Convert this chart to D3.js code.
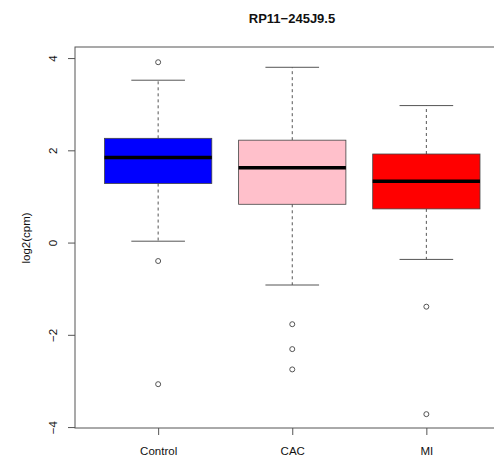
<!DOCTYPE html>
<html>
<head>
<meta charset="utf-8">
<script src="https://cdn.jsdelivr.net/npm/d3@7"></script>
<style>
  body { margin: 0; background: #fff; }
  text { font-family: "Liberation Sans", Arial, sans-serif; }
</style>
</head>
<body>
<div id="chart"></div>
<script>
// values
const groups = ['Control', 'CAC', 'MI'];
const colors = ['#0000ff', '#ffc0cb', '#ff0000'];
const lowWhisker = [0.03, -0.92, -0.365];
const q1 = [1.28, 0.83, 0.73];
const median = [1.846, 1.62, 1.33];
const q3 = [2.26, 2.22, 1.92];
const highWhisker = [3.52, 3.80, 2.97];
const outliers = [
    [3.91, -0.40, -3.07],
    [-1.77, -2.31, -2.75],
    [-1.39, -3.72]
];
const yTicks = [-4, -2, 0, 2, 4];

const width = 494, height = 465;

const svg = d3.select('#chart').append('svg')
    .attr('width', width)
    .attr('height', height);

// R style extended ranges
const x = d3.scaleLinear().domain([0.38, 3.62]).range([75, 509.5]);
const y = d3.scaleLinear().domain([-4.02, 4.24]).range([428, 47]);

const boxW = 0.8, capW = 0.4;

const data = groups.map((g, i) => ({
    name: g, pos: i + 1, color: colors[i],
    lo: lowWhisker[i], q1: q1[i], med: median[i], q3: q3[i], hi: highWhisker[i],
    out: outliers[i]
}));

const box = svg.selectAll('.box')
    .data(data)
    .enter().append('g')
    .attr('class', 'box');

// dashed whiskers
box.append('line')
    .attr('x1', d => x(d.pos)).attr('x2', d => x(d.pos))
    .attr('y1', d => y(d.q3)).attr('y2', d => y(d.hi))
    .attr('stroke', '#555').attr('stroke-dasharray', '3,3');
box.append('line')
    .attr('x1', d => x(d.pos)).attr('x2', d => x(d.pos))
    .attr('y1', d => y(d.q1)).attr('y2', d => y(d.lo))
    .attr('stroke', '#555').attr('stroke-dasharray', '3,3');

// staples
box.append('line')
    .attr('x1', d => x(d.pos - capW / 2)).attr('x2', d => x(d.pos + capW / 2))
    .attr('y1', d => y(d.hi)).attr('y2', d => y(d.hi))
    .attr('stroke', '#555');
box.append('line')
    .attr('x1', d => x(d.pos - capW / 2)).attr('x2', d => x(d.pos + capW / 2))
    .attr('y1', d => y(d.lo)).attr('y2', d => y(d.lo))
    .attr('stroke', '#555');

box.append('rect')
    .attr('x', d => x(d.pos - boxW / 2))
    .attr('y', d => y(d.q3))
    .attr('width', d => x(d.pos + boxW / 2) - x(d.pos - boxW / 2))
    .attr('height', d => y(d.q1) - y(d.q3))
    .attr('fill', d => d.color)
    .attr('stroke', '#444')
    .attr('stroke-width', 0.8);

box.append('line')
    .attr('x1', d => x(d.pos - boxW / 2)).attr('x2', d => x(d.pos + boxW / 2))
    .attr('y1', d => y(d.med)).attr('y2', d => y(d.med))
    .attr('stroke', '#000').attr('stroke-width', 3.5);

box.selectAll('circle')
    .data(d => d.out.map(v => ({ pos: d.pos, v: v })))
    .enter().append('circle')
    .attr('cx', d => x(d.pos))
    .attr('cy', d => y(d.v))
    .attr('r', 2.5)
    .attr('fill', 'none')
    .attr('stroke', '#555');

// frame
svg.append('rect')
    .attr('x', x.range()[0]).attr('y', y.range()[1])
    .attr('width', x.range()[1] - x.range()[0])
    .attr('height', y.range()[0] - y.range()[1])
    .attr('fill', 'none')
    .attr('stroke', '#555');

// axes
const yAxis = svg.append('g')
    .attr('transform', `translate(${x.range()[0]},0)`)
    .call(d3.axisLeft(y).tickValues(yTicks).tickSize(7).tickFormat(d3.format('d')));
yAxis.select('.domain').remove();
yAxis.selectAll('line').attr('stroke', '#555');
yAxis.selectAll('text')
    .attr('x', null).attr('dy', null)
    .attr('transform', 'translate(-18,0) rotate(-90)')
    .attr('text-anchor', 'middle')
    .attr('fill', '#111')
    .style('font-size', '11.5px');
yAxis.attr('font-family', null);

const xAxis = svg.append('g')
    .attr('transform', `translate(0,${y.range()[0]})`)
    .call(d3.axisBottom(x).tickValues([1, 2, 3]).tickSize(7).tickFormat(d => groups[d - 1]));
xAxis.select('.domain').remove();
xAxis.selectAll('line').attr('stroke', '#555');
xAxis.selectAll('text')
    .attr('y', 27).attr('dy', null)
    .attr('fill', '#111')
    .style('font-size', '11.5px');
xAxis.attr('font-family', null);

svg.append('text')
    .attr('x', 292)
    .attr('y', 23)
    .attr('text-anchor', 'middle')
    .style('font-size', '13px')
    .style('font-weight', 'bold')
    .attr('fill', '#111')
    .text('RP11\u2212245J9.5');

svg.append('text')
    .attr('transform', 'translate(30,238) rotate(-90)')
    .attr('text-anchor', 'middle')
    .style('font-size', '11.5px')
    .attr('fill', '#111')
    .text('log2(cpm)');
</script>
</body>
</html>
